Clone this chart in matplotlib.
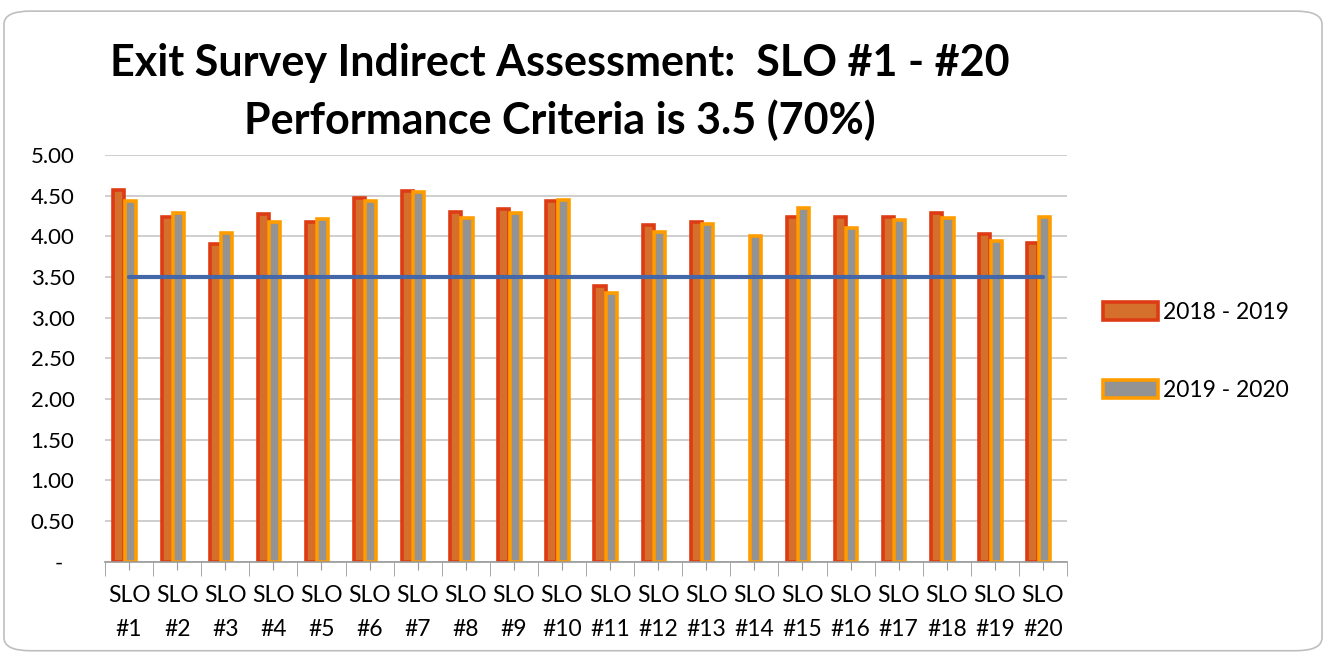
import numpy as np
import matplotlib.pyplot as plt
from matplotlib.patches import FancyBboxPatch, Patch

# data
categories = ["SLO\n#%d" % i for i in range(1, 21)]
y2018 = [4.57, 4.24, 3.90, 4.27, 4.18, 4.47, 4.56, 4.30, 4.33, 4.43,
         3.39, 4.14, 4.18, np.nan, 4.24, 4.24, 4.24, 4.29, 4.03, 3.92]
y2019 = [4.44, 4.29, 4.04, 4.18, 4.21, 4.43, 4.55, 4.22, 4.29, 4.45,
         3.30, 4.05, 4.15, 4.01, 4.35, 4.10, 4.20, 4.22, 3.94, 4.24]
criteria = [3.5] * 20
yticks = [0, 0.5, 1, 1.5, 2, 2.5, 3, 3.5, 4, 4.5, 5]
ytick_labels = ["-  ", "0.50", "1.00", "1.50", "2.00", "2.50", "3.00",
                "3.50", "4.00", "4.50", "5.00"]

plt.rcParams['font.family'] = ['Lato', 'DejaVu Sans']

fig = plt.figure(figsize=(13.26, 6.54), dpi=100)
ax = fig.add_axes([0.0792, 0.1413, 0.7255, 0.6217])

x = np.arange(len(categories))
w = 0.23
ax.bar(x - 0.21, y2018, w, color='#D4702C', edgecolor='#DD3B14',
       linewidth=2.6, label='2018 - 2019', zorder=2)
ax.bar(x + 0.025, y2019, w, color='#939393', edgecolor='#FF9C00',
       linewidth=2.6, label='2019 - 2020', zorder=3)
ax.plot(x, criteria, color='#4467A8', linewidth=3, zorder=4,
        solid_capstyle='round')

ax.set_xlim(-0.5, len(categories) - 0.5)
ax.set_ylim(0, 5)
ax.set_yticks(yticks)
ax.set_yticklabels(ytick_labels, fontsize=16)
ax.set_xticks(x)
ax.set_xticklabels(categories, fontsize=16.5, linespacing=1.75)
ax.set_xticks(np.arange(-0.5, len(categories)), minor=True)
ax.tick_params(axis='x', which='major', length=6, color='#999999', pad=11)
ax.tick_params(axis='x', which='minor', length=10, color='#999999')
ax.tick_params(axis='y', length=0, pad=22)
ax.yaxis.grid(True, color='#c6c6c6', linewidth=1.2, zorder=0)
ax.set_axisbelow(True)
for s in ['top', 'right', 'left']:
    ax.spines[s].set_visible(False)
ax.spines['bottom'].set_color('#999999')
ax.spines['bottom'].set_linewidth(1.2)
ax.spines['bottom'].set_zorder(5)

fig.text(0.4223, 0.935, "Exit Survey Indirect Assessment:  SLO #1 - #20\nPerformance Criteria is 3.5 (70%)",
         ha='center', va='top', fontsize=31, fontweight='bold', linespacing=1.48)

handles = [Patch(facecolor='#D4702C', edgecolor='#DD3B14', linewidth=2.6, label='2018 - 2019'),
           Patch(facecolor='#939393', edgecolor='#FF9C00', linewidth=2.6, label='2019 - 2020')]
fig.legend(handles=handles, loc='center left', bbox_to_anchor=(0.8318, 0.4625),
           frameon=False, fontsize=16.5, labelspacing=2.5, handlelength=2.4,
           handleheight=0.8, handletextpad=0.2, borderpad=0, borderaxespad=0)

border = FancyBboxPatch((0.003, 0.005), 0.994, 0.978,
                        boxstyle='round,pad=0,rounding_size=0.02',
                        transform=fig.transFigure, facecolor='none',
                        edgecolor='#bfbfbf', linewidth=1.2)
fig.patches.append(border)

fig.savefig('out.png', dpi=100)
